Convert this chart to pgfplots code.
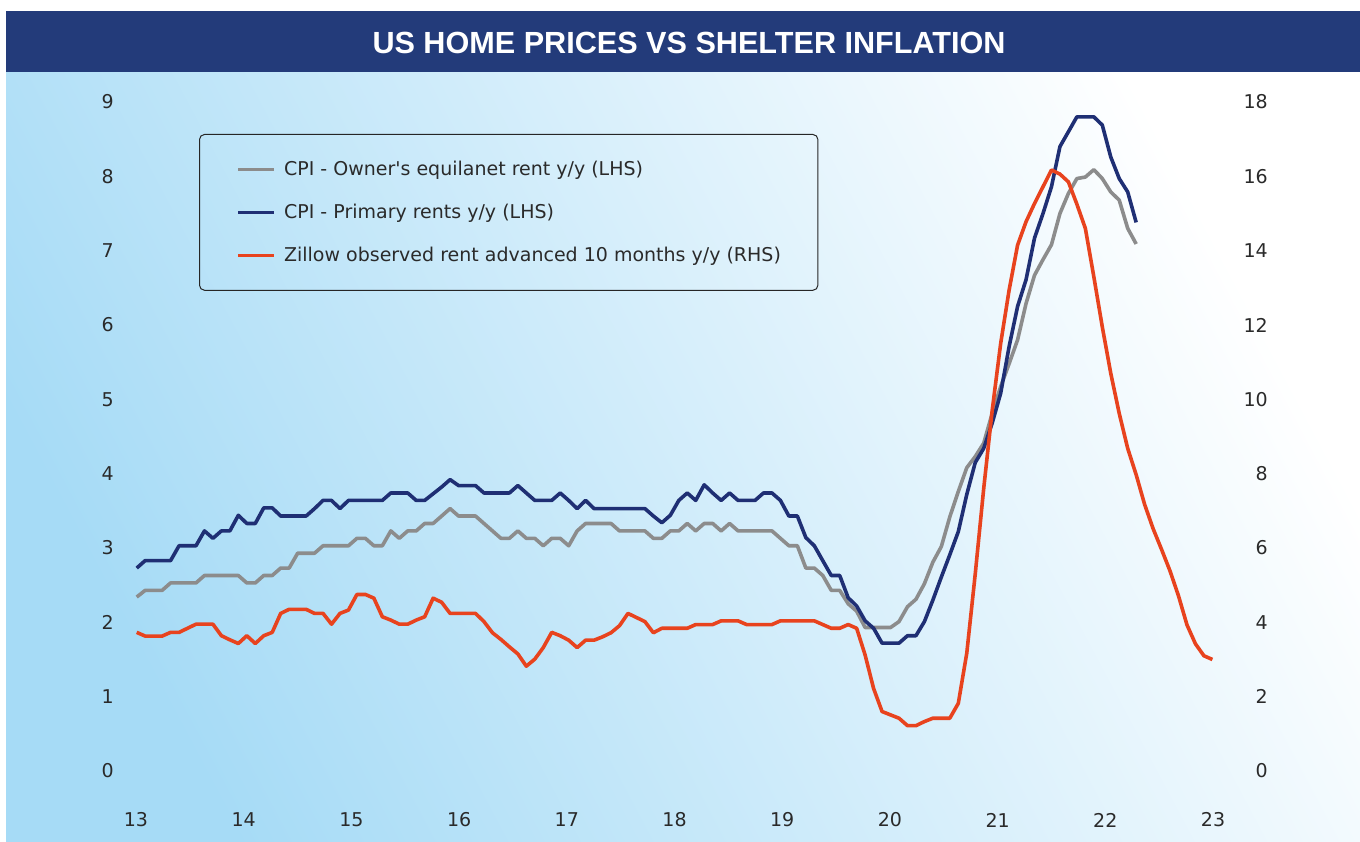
\documentclass[border=0pt]{standalone}
\usepackage{pgfplots}
\pgfplotsset{compat=1.18}
\usepackage{pgfplotstable}
\usepackage{fontspec}
\setmainfont{DejaVu Sans}
\newfontfamily\titlefont{Liberation Sans}
\definecolor{barblue}{HTML}{233B7A}
\definecolor{navy}{HTML}{1F2F74}
\definecolor{oergray}{HTML}{8C8C8C}
\definecolor{zred}{HTML}{E8431E}
\definecolor{bgblue}{HTML}{A6DBF6}
\definecolor{bgmid}{HTML}{D3EEFB}
\definecolor{ticktext}{HTML}{2A2A2A}

\pgfplotstableread{
i oer rent
0 2.34 2.73
1 2.43 2.83
2 2.43 2.83
3 2.43 2.83
4 2.53 2.83
5 2.53 3.03
6 2.53 3.03
7 2.53 3.03
8 2.63 3.23
9 2.63 3.13
10 2.63 3.23
11 2.63 3.23
12 2.63 3.44
13 2.53 3.33
14 2.53 3.33
15 2.63 3.54
16 2.63 3.54
17 2.73 3.43
18 2.73 3.43
19 2.93 3.43
20 2.93 3.43
21 2.93 3.53
22 3.03 3.64
23 3.03 3.64
24 3.03 3.53
25 3.03 3.64
26 3.13 3.64
27 3.13 3.64
28 3.03 3.64
29 3.03 3.64
30 3.23 3.74
31 3.13 3.74
32 3.23 3.74
33 3.23 3.64
34 3.33 3.64
35 3.33 3.73
36 3.43 3.82
37 3.53 3.92
38 3.43 3.84
39 3.43 3.84
40 3.43 3.84
41 3.33 3.74
42 3.23 3.74
43 3.13 3.74
44 3.13 3.74
45 3.23 3.84
46 3.13 3.74
47 3.13 3.64
48 3.03 3.64
49 3.13 3.64
50 3.13 3.74
51 3.03 3.64
52 3.23 3.53
53 3.33 3.64
54 3.33 3.53
55 3.33 3.53
56 3.33 3.53
57 3.23 3.53
58 3.23 3.53
59 3.23 3.53
60 3.23 3.53
61 3.13 3.43
62 3.13 3.34
63 3.23 3.44
64 3.23 3.64
65 3.33 3.74
66 3.23 3.64
67 3.33 3.85
68 3.33 3.74
69 3.23 3.64
70 3.33 3.74
71 3.23 3.64
72 3.23 3.64
73 3.23 3.64
74 3.23 3.74
75 3.23 3.74
76 3.13 3.64
77 3.03 3.43
78 3.03 3.43
79 2.73 3.14
80 2.73 3.03
81 2.63 2.83
82 2.43 2.63
83 2.43 2.63
84 2.25 2.33
85 2.15 2.22
86 1.93 2.02
87 1.93 1.92
88 1.93 1.72
89 1.93 1.72
90 2.01 1.72
91 2.21 1.82
92 2.31 1.82
93 2.52 2.01
94 2.81 2.30
95 3.02 2.61
96 3.42 2.91
97 3.76 3.22
98 4.08 3.72
99 4.23 4.15
100 4.41 4.34
101 4.81 4.68
102 5.17 5.08
103 5.48 5.71
104 5.80 6.25
105 6.29 6.61
106 6.67 7.17
107 6.88 7.50
108 7.08 7.86
109 7.50 8.40
110 7.77 8.60
111 7.97 8.80
112 7.99 8.80
113 8.09 8.80
114 7.97 8.69
115 7.79 8.26
116 7.68 7.97
117 7.30 7.79
118 7.09 7.38
}\cpi

\pgfplotstableread{
i z
0 3.73
1 3.63
2 3.63
3 3.63
4 3.73
5 3.73
6 3.84
7 3.95
8 3.95
9 3.95
10 3.64
11 3.53
12 3.43
13 3.64
14 3.43
15 3.64
16 3.73
17 4.24
18 4.35
19 4.35
20 4.35
21 4.24
22 4.24
23 3.95
24 4.24
25 4.33
26 4.75
27 4.75
28 4.65
29 4.15
30 4.06
31 3.95
32 3.95
33 4.06
34 4.15
35 4.65
36 4.54
37 4.24
38 4.24
39 4.24
40 4.24
41 4.02
42 3.72
43 3.54
44 3.34
45 3.15
46 2.82
47 3.01
48 3.32
49 3.73
50 3.64
51 3.52
52 3.32
53 3.52
54 3.52
55 3.61
56 3.72
57 3.91
58 4.24
59 4.13
60 4.02
61 3.72
62 3.84
63 3.84
64 3.84
65 3.84
66 3.94
67 3.94
68 3.94
69 4.04
70 4.04
71 4.04
72 3.94
73 3.94
74 3.94
75 3.94
76 4.04
77 4.04
78 4.04
79 4.04
80 4.04
81 3.94
82 3.84
83 3.84
84 3.94
85 3.84
86 3.12
87 2.22
88 1.60
89 1.51
90 1.42
91 1.22
92 1.22
93 1.33
94 1.42
95 1.42
96 1.42
97 1.82
98 3.17
99 5.30
100 7.60
101 9.70
102 11.50
103 12.94
104 14.15
105 14.78
106 15.27
107 15.72
108 16.17
109 16.06
110 15.85
111 15.25
112 14.60
113 13.30
114 11.95
115 10.70
116 9.62
117 8.68
118 7.97
119 7.17
120 6.52
121 5.96
122 5.38
123 4.71
124 3.93
125 3.42
126 3.10
127 3.00
}\zillow

\pgfplotsset{
  common/.style={
    at={(136pt,70pt)}, anchor=south west,
    scale only axis, width=1077pt, height=669pt,
    xmin=13, xmax=23, clip=false,
    axis line style={draw=none},
    major tick length=0pt,
    tick label style={font=\fontsize{19}{23}\selectfont, text=ticktext, inner sep=0pt},
    /pgf/number format/assume math mode=true,
  },
  legend image code/.code={\draw[#1] (0pt,0pt) -- (36pt,0pt);},
}

\begin{document}
\begin{tikzpicture}[x=1pt,y=1pt]
\useasboundingbox (0,0) rectangle (1360,841);
\fill[white] (0,0) rectangle (1360,841);
\shade[shading=axis, bottom color=bgblue, middle color=bgmid, top color=white, shading angle=-62] (6,0) rectangle (1360,769);
\fill[barblue] (6,769) rectangle (1360,830);
\node[text=white, inner sep=0pt, font=\titlefont\bfseries\fontsize{30.6}{36}\selectfont] at (689,798) {US HOME PRICES VS SHELTER INFLATION};

\begin{axis}[common,
  ymin=0, ymax=9,
  xtick={13,14,...,23},
  ytick={0,1,...,9},
  xticklabel style={anchor=center, yshift=-49pt},
  yticklabel style={anchor=east, xshift=-22pt},
]
\addplot[oergray, line width=3.6pt, line join=round] table[x expr=13.0065+0.078645*\thisrow{i}, y=oer]{\cpi};
\addplot[navy, line width=3.6pt, line join=round] table[x expr=13.0065+0.078645*\thisrow{i}, y=rent]{\cpi};
\end{axis}

\begin{axis}[common,
  ymin=0, ymax=18,
  xtick=\empty,
  ytick={0,2,...,18},
  yticklabel pos=right,
  yticklabel style={anchor=east, xshift=55pt},
  legend cell align=left,
  legend style={at={(0.0585,0.9522)}, anchor=north west,
    draw=black!85, line width=1pt, rounded corners=5pt, fill=none,
    font=\fontsize{19}{23}\selectfont, text=ticktext,
    inner xsep=37pt, inner ysep=27pt, row sep=27pt,
    nodes={inner sep=0pt},
    /tikz/every odd column/.append style={column sep=8pt}},
]
\addlegendimage{oergray, line width=3.6pt}
\addlegendentry{CPI - Owner\textquotesingle s equilanet rent y/y (LHS)}
\addlegendimage{navy, line width=3.6pt}
\addlegendentry{CPI - Primary rents y/y (LHS)}
\addplot[zred, line width=3.6pt, line join=round] table[x expr=13.0065+0.078645*\thisrow{i}, y=z]{\zillow};
\addlegendentry{Zillow observed rent advanced 10 months y/y (RHS)}
\end{axis}
\end{tikzpicture}
\end{document}
